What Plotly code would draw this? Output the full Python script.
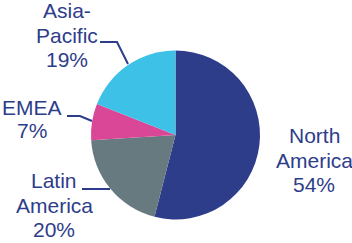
import plotly.graph_objects as go

# Data
regions = ["North America", "Latin America", "EMEA", "Asia-Pacific"]
shares = [54, 20, 7, 19]
colors = ["#2E3D8A", "#677A80", "#DB4797", "#3DC1E6"]
label_lines = [["North", "America", "54%"],
               ["Latin", "America", "20%"],
               ["EMEA", "7%"],
               ["Asia-", "Pacific", "19%"]]

W, H = 352, 243
NAVY = "#2E3D8A"

def px(x, y):
    return x / W, 1 - y / H

cx, cy, r = 175.5, 135, 84.5

fig = go.Figure(go.Pie(
    labels=regions, values=shares, sort=False, direction="clockwise",
    rotation=0, marker=dict(colors=colors, line=dict(width=0)),
    textinfo="none", hoverinfo="skip", showlegend=False,
    domain=dict(x=[(cx - r) / W, (cx + r) / W],
                y=[(H - cy - r) / H, (H - cy + r) / H]),
))

# label placement (center x, baselines) in pixels
label_pos = [
    (314, [143, 168, 192]),
    (54, [188, 213, 237]),
    (32, [115, 138]),
    (67, [18, 43, 67]),
]
fs = 21
for lines, (x, bases) in zip(label_lines, label_pos):
    for t, b in zip(lines, bases):
        ax, ay = px(x, b - 0.35 * fs)
        fig.add_annotation(x=ax, y=ay, xref="paper", yref="paper", text=t,
                           showarrow=False, xanchor="center", yanchor="middle",
                           font=dict(family="Liberation Sans, Arial", size=fs, color=NAVY))

leaders = [
    [(100, 42), (117, 42), (128, 64)],
    [(67, 116), (80, 116), (92, 121)],
    [(82, 189), (110, 189)],
]
for pts in leaders:
    path = ""
    for i, (x, y) in enumerate(pts):
        X, Y = px(x, y)
        path += ("M" if i == 0 else " L") + f" {X} {Y}"
    fig.add_shape(type="path", path=path, xref="paper", yref="paper",
                  line=dict(color=NAVY, width=2))

fig.update_layout(width=W, height=H, margin=dict(l=0, r=0, t=0, b=0),
                  paper_bgcolor="white", plot_bgcolor="white")
fig.write_html("out.html", post_script="document.body.style.margin='0';document.body.style.overflow='hidden';",
               config={"displayModeBar": False})
